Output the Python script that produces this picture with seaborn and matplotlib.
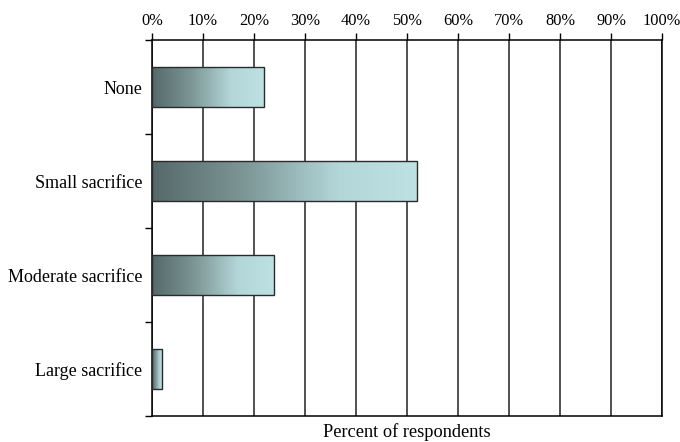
import numpy as np
import pandas as pd
import matplotlib
matplotlib.use("Agg")
import matplotlib.pyplot as plt
from matplotlib.colors import LinearSegmentedColormap
from matplotlib.ticker import MultipleLocator, PercentFormatter
import seaborn as sns

categories = ["None", "Small sacrifice", "Moderate sacrifice", "Large sacrifice"]
percent = [22, 52, 24, 2]
x_ticks = [0, 10, 20, 30, 40, 50, 60, 70, 80, 90, 100]

sns.set_theme(style="white")
plt.rcParams["font.family"] = ["Liberation Serif", "DejaVu Serif"]

df = pd.DataFrame({"category": categories, "percent": percent})

fig = plt.figure(figsize=(6.8, 4.42), dpi=100)
ax = fig.add_axes([152 / 680, 1 - 416 / 442, 510 / 680, 376 / 442])

sns.barplot(data=df, x="percent", y="category", orient="h", ax=ax,
            width=0.42, color="#8fb0b1", edgecolor="#2a2a2a", linewidth=1.0,
            zorder=3)

cmap = LinearSegmentedColormap.from_list(
    "teal", [(0.0, "#55696a"), (0.35, "#7d9696"), (0.7, "#b3d6d8"), (1.0, "#bee1e3")])
grad = np.linspace(0, 1, 256).reshape(1, -1)
for bar in ax.patches:
    x0, y0 = bar.get_x(), bar.get_y()
    w, h = bar.get_width(), bar.get_height()
    bar.set_facecolor("none")
    im = ax.imshow(grad, cmap=cmap, aspect="auto", extent=(x0, x0 + w, y0 + h, y0),
                   zorder=2.5, interpolation="bilinear")
    im.set_clip_path(bar)

ax.set_xlim(0, 100)
ax.set_ylim(len(categories) - 0.5, -0.5)
ax.set_xticks(x_ticks)
ax.xaxis.set_major_formatter(PercentFormatter(decimals=0))
ax.xaxis.tick_top()
ax.tick_params(axis="x", which="major", direction="out", length=5, width=1,
               color="black", labelsize=11.8, pad=3, labelcolor="black",
               bottom=False, top=True)
ax.grid(axis="x", color="#222222", linewidth=1.1, zorder=1)
ax.grid(axis="y", visible=False)

ax.set_yticks(range(len(categories)))
ax.set_yticklabels(categories)
ax.tick_params(axis="y", which="major", length=0, labelsize=13, pad=7, labelcolor="black")
ax.yaxis.set_minor_locator(MultipleLocator(1, offset=0.5))
ax.tick_params(axis="y", which="minor", direction="out", length=5, width=1,
               color="black", left=True)

for s in ax.spines.values():
    s.set_visible(True)
    s.set_color("black")
    s.set_linewidth(1.1)

ax.set_ylabel("")
ax.set_xlabel("")
fig.text((152 + 662) / 2 / 680, 1 - 432 / 442, "Percent of respondents",
         ha="center", va="center", fontsize=13.2, color="black")

fig.savefig("out.png", dpi=100)
